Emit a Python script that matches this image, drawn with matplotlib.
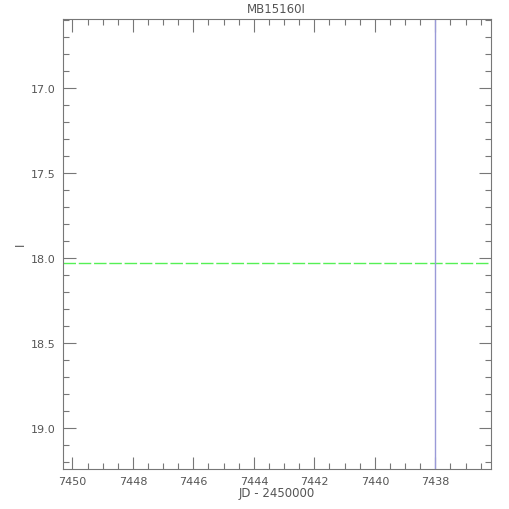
import matplotlib
matplotlib.use("Agg")
import matplotlib.pyplot as plt
from matplotlib.ticker import MultipleLocator, FormatStrFormatter

title = "MB15160I"
xlabel = "JD - 2450000"
ylabel = "I"
xlim = [7450.32, 7436.17]
ylim = [19.24, 16.59]
baseline_mag = [18.03]
marker_jd = [7438.0]

gray = "#777777"
fig = plt.figure(figsize=(5.1, 5.1), dpi=100)
ax = fig.add_axes([62.7/510, 1 - 470/510, (490.7-62.7)/510, (470-19.5)/510])
ax.set_xlim(xlim)
ax.set_ylim(ylim[0], ylim[1])
for m in baseline_mag:
    ax.axhline(m, color="#55f055", lw=1.0, ls=(0, (9, 2)))
for j in marker_jd:
    ax.axvline(j, color="#9a9ad8", lw=1.0)

ax.xaxis.set_major_locator(MultipleLocator(2))
ax.xaxis.set_minor_locator(MultipleLocator(0.5))
ax.yaxis.set_major_locator(MultipleLocator(0.5))
ax.yaxis.set_minor_locator(MultipleLocator(0.1))
ax.yaxis.set_major_formatter(FormatStrFormatter("%.1f"))
ax.xaxis.set_major_formatter(FormatStrFormatter("%d"))
ax.tick_params(which="both", direction="in", top=True, right=True, colors=gray,
               labelcolor="#555555", labelsize=8, width=0.8)
ax.tick_params(which="major", length=9, pad=5)
ax.tick_params(which="minor", length=4.5)
for s in ax.spines.values():
    s.set_color(gray)
    s.set_linewidth(0.8)
ax.set_title(title, fontsize=8.5, color="#555555", pad=5)
ax.set_xlabel(xlabel, fontsize=8.5, color="#555555", labelpad=0)
ax.set_ylabel(ylabel, fontsize=8.5, color="#555555")
ax.yaxis.set_label_coords((27 - 62.7) / 428, 0.5)
fig.savefig("out.png", dpi=100)
